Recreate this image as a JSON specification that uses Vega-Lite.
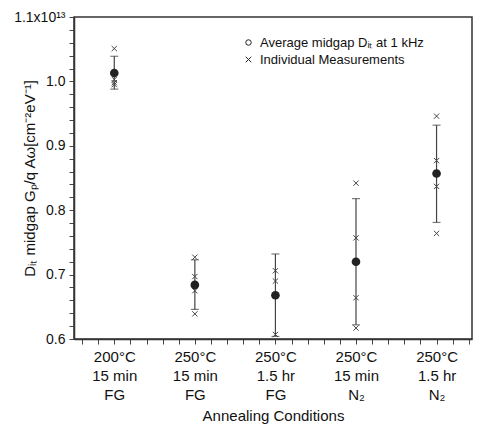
{
  "$schema": "https://vega.github.io/schema/vega-lite/v6.json",
  "width": 398,
  "height": 322,
  "autosize": {"type": "none"},
  "padding": {"left": 74, "top": 17, "right": 7, "bottom": 87},
  "background": "white",
  "config": {
    "view": {"stroke": "#333333", "strokeWidth": 1.5},
    "font": "Liberation Sans",
    "axis": {
      "grid": false,
      "ticks": true,
      "domainColor": "#333333",
      "domainWidth": 1.5,
      "tickColor": "#444444",
      "tickWidth": 1,
      "labelColor": "#111111",
      "titleColor": "#111111",
      "titleFontWeight": "normal",
      "labelFont": "Liberation Sans",
      "titleFont": "Liberation Sans"
    }
  },
  "datasets": {
    "means": [
      {"idx": 1, "condition": "200°C 15 min FG", "series": "Average midgap Dᵢₜ  at 1 kHz", "mean": 1.013, "low": 0.988, "high": 1.039},
      {"idx": 2, "condition": "250°C 15 min FG", "series": "Average midgap Dᵢₜ  at 1 kHz", "mean": 0.684, "low": 0.646, "high": 0.723},
      {"idx": 3, "condition": "250°C 1.5 hr FG", "series": "Average midgap Dᵢₜ  at 1 kHz", "mean": 0.668, "low": 0.604, "high": 0.732},
      {"idx": 4, "condition": "250°C 15 min N2", "series": "Average midgap Dᵢₜ  at 1 kHz", "mean": 0.720, "low": 0.622, "high": 0.818},
      {"idx": 5, "condition": "250°C 1.5 hr N2", "series": "Average midgap Dᵢₜ  at 1 kHz", "mean": 0.857, "low": 0.781, "high": 0.932}
    ],
    "individual": [
      {"idx": 1, "series": "Individual Measurements", "value": 1.051},
      {"idx": 1, "series": "Individual Measurements", "value": 1.003},
      {"idx": 1, "series": "Individual Measurements", "value": 0.998},
      {"idx": 1, "series": "Individual Measurements", "value": 0.995},
      {"idx": 2, "series": "Individual Measurements", "value": 0.727},
      {"idx": 2, "series": "Individual Measurements", "value": 0.697},
      {"idx": 2, "series": "Individual Measurements", "value": 0.675},
      {"idx": 2, "series": "Individual Measurements", "value": 0.639},
      {"idx": 3, "series": "Individual Measurements", "value": 0.706},
      {"idx": 3, "series": "Individual Measurements", "value": 0.690},
      {"idx": 3, "series": "Individual Measurements", "value": 0.607},
      {"idx": 4, "series": "Individual Measurements", "value": 0.842},
      {"idx": 4, "series": "Individual Measurements", "value": 0.757},
      {"idx": 4, "series": "Individual Measurements", "value": 0.664},
      {"idx": 4, "series": "Individual Measurements", "value": 0.617},
      {"idx": 5, "series": "Individual Measurements", "value": 0.946},
      {"idx": 5, "series": "Individual Measurements", "value": 0.877},
      {"idx": 5, "series": "Individual Measurements", "value": 0.837},
      {"idx": 5, "series": "Individual Measurements", "value": 0.764}
    ]
  },
  "layer": [
    {
      "data": {"name": "means"},
      "mark": {"type": "rule", "color": "#444444", "strokeWidth": 1.2},
      "encoding": {
        "x": {
          "field": "idx", "type": "quantitative",
          "scale": {"domain": [0.5, 5.44], "nice": false, "zero": false},
          "axis": {"orient": "bottom", "values": [0.6, 0.8, 1, 1.2, 1.4, 1.6, 1.8, 2, 2.2, 2.4, 2.6, 2.8, 3, 3.2, 3.4, 3.6, 3.8, 4, 4.2, 4.4, 4.6, 4.8, 5, 5.2, 5.4], "tickSize": 5, "labelExpr": "abs(datum.value - round(datum.value)) < 0.01 ? split(['200°C|15 min|FG','250°C|15 min|FG','250°C|1.5 hr|FG','250°C|15 min|N₂','250°C|1.5 hr|N₂'][round(datum.value) - 1], '|') : ''", "labelFontSize": 15, "labelLineHeight": 19, "labelPadding": 5, "labelOverlap": false, "labelFlush": false, "labelBound": false, "title": "Annealing Conditions", "titleFontSize": 15, "titlePadding": 6}
        },
        "y": {
          "field": "low", "type": "quantitative",
          "scale": {"domain": [0.6, 1.1], "nice": false, "zero": false},
          "axis": {"orient": "left", "values": [0.6, 0.62, 0.64, 0.66, 0.68, 0.7, 0.72, 0.74, 0.76, 0.78, 0.8, 0.82, 0.84, 0.86, 0.88, 0.9, 0.92, 0.94, 0.96, 0.98, 1.0, 1.02, 1.04, 1.06, 1.08, 1.1], "tickSize": 5, "labelExpr": "abs(datum.value * 10 - round(datum.value * 10)) < 0.01 ? (datum.value > 1.05 ? '1.1x10¹³' : format(datum.value, '.1f')) : ''", "labelFontSize": 14, "labelPadding": 4, "labelOverlap": false, "labelFlush": false, "labelBound": false, "title": "Dᵢₜ midgap Gₚ/q Aω[cm⁻²eV⁻¹]", "titleFontSize": 15, "titlePadding": -24}
        },
        "y2": {"field": "high"}
      }
    },
    {
      "data": {"name": "means"},
      "mark": {"type": "tick", "orient": "horizontal", "color": "#444444", "size": 8, "thickness": 1.2},
      "encoding": {
        "x": {
          "field": "idx", "type": "quantitative",
          "axis": {"orient": "bottom", "values": [0.6, 0.8, 1, 1.2, 1.4, 1.6, 1.8, 2, 2.2, 2.4, 2.6, 2.8, 3, 3.2, 3.4, 3.6, 3.8, 4, 4.2, 4.4, 4.6, 4.8, 5, 5.2, 5.4], "tickSize": 5, "labelExpr": "abs(datum.value - round(datum.value)) < 0.01 ? split(['200°C|15 min|FG','250°C|15 min|FG','250°C|1.5 hr|FG','250°C|15 min|N₂','250°C|1.5 hr|N₂'][round(datum.value) - 1], '|') : ''", "labelFontSize": 15, "labelLineHeight": 19, "labelPadding": 5, "labelOverlap": false, "labelFlush": false, "labelBound": false, "title": "Annealing Conditions", "titleFontSize": 15, "titlePadding": 6}
        },
        "y": {
          "field": "low", "type": "quantitative",
          "axis": {"orient": "left", "values": [0.6, 0.62, 0.64, 0.66, 0.68, 0.7, 0.72, 0.74, 0.76, 0.78, 0.8, 0.82, 0.84, 0.86, 0.88, 0.9, 0.92, 0.94, 0.96, 0.98, 1.0, 1.02, 1.04, 1.06, 1.08, 1.1], "tickSize": 5, "labelExpr": "abs(datum.value * 10 - round(datum.value * 10)) < 0.01 ? (datum.value > 1.05 ? '1.1x10¹³' : format(datum.value, '.1f')) : ''", "labelFontSize": 14, "labelPadding": 4, "labelOverlap": false, "labelFlush": false, "labelBound": false, "title": "Dᵢₜ midgap Gₚ/q Aω[cm⁻²eV⁻¹]", "titleFontSize": 15, "titlePadding": -24}
        }
      }
    },
    {
      "data": {"name": "means"},
      "mark": {"type": "tick", "orient": "horizontal", "color": "#444444", "size": 8, "thickness": 1.2},
      "encoding": {
        "x": {
          "field": "idx", "type": "quantitative",
          "axis": {"orient": "bottom", "values": [0.6, 0.8, 1, 1.2, 1.4, 1.6, 1.8, 2, 2.2, 2.4, 2.6, 2.8, 3, 3.2, 3.4, 3.6, 3.8, 4, 4.2, 4.4, 4.6, 4.8, 5, 5.2, 5.4], "tickSize": 5, "labelExpr": "abs(datum.value - round(datum.value)) < 0.01 ? split(['200°C|15 min|FG','250°C|15 min|FG','250°C|1.5 hr|FG','250°C|15 min|N₂','250°C|1.5 hr|N₂'][round(datum.value) - 1], '|') : ''", "labelFontSize": 15, "labelLineHeight": 19, "labelPadding": 5, "labelOverlap": false, "labelFlush": false, "labelBound": false, "title": "Annealing Conditions", "titleFontSize": 15, "titlePadding": 6}
        },
        "y": {
          "field": "high", "type": "quantitative",
          "axis": {"orient": "left", "values": [0.6, 0.62, 0.64, 0.66, 0.68, 0.7, 0.72, 0.74, 0.76, 0.78, 0.8, 0.82, 0.84, 0.86, 0.88, 0.9, 0.92, 0.94, 0.96, 0.98, 1.0, 1.02, 1.04, 1.06, 1.08, 1.1], "tickSize": 5, "labelExpr": "abs(datum.value * 10 - round(datum.value * 10)) < 0.01 ? (datum.value > 1.05 ? '1.1x10¹³' : format(datum.value, '.1f')) : ''", "labelFontSize": 14, "labelPadding": 4, "labelOverlap": false, "labelFlush": false, "labelBound": false, "title": "Dᵢₜ midgap Gₚ/q Aω[cm⁻²eV⁻¹]", "titleFontSize": 15, "titlePadding": -24}
        }
      }
    },
    {
      "data": {"name": "individual"},
      "mark": {"type": "point", "filled": false, "color": "#444444", "strokeWidth": 1, "size": 28, "opacity": 1},
      "encoding": {
        "x": {
          "field": "idx", "type": "quantitative",
          "axis": {"orient": "bottom", "values": [0.6, 0.8, 1, 1.2, 1.4, 1.6, 1.8, 2, 2.2, 2.4, 2.6, 2.8, 3, 3.2, 3.4, 3.6, 3.8, 4, 4.2, 4.4, 4.6, 4.8, 5, 5.2, 5.4], "tickSize": 5, "labelExpr": "abs(datum.value - round(datum.value)) < 0.01 ? split(['200°C|15 min|FG','250°C|15 min|FG','250°C|1.5 hr|FG','250°C|15 min|N₂','250°C|1.5 hr|N₂'][round(datum.value) - 1], '|') : ''", "labelFontSize": 15, "labelLineHeight": 19, "labelPadding": 5, "labelOverlap": false, "labelFlush": false, "labelBound": false, "title": "Annealing Conditions", "titleFontSize": 15, "titlePadding": 6}
        },
        "y": {
          "field": "value", "type": "quantitative",
          "axis": {"orient": "left", "values": [0.6, 0.62, 0.64, 0.66, 0.68, 0.7, 0.72, 0.74, 0.76, 0.78, 0.8, 0.82, 0.84, 0.86, 0.88, 0.9, 0.92, 0.94, 0.96, 0.98, 1.0, 1.02, 1.04, 1.06, 1.08, 1.1], "tickSize": 5, "labelExpr": "abs(datum.value * 10 - round(datum.value * 10)) < 0.01 ? (datum.value > 1.05 ? '1.1x10¹³' : format(datum.value, '.1f')) : ''", "labelFontSize": 14, "labelPadding": 4, "labelOverlap": false, "labelFlush": false, "labelBound": false, "title": "Dᵢₜ midgap Gₚ/q Aω[cm⁻²eV⁻¹]", "titleFontSize": 15, "titlePadding": -24}
        },
        "shape": {
          "field": "series", "type": "nominal",
          "scale": {"domain": ["Average midgap Dᵢₜ  at 1 kHz", "Individual Measurements"], "range": ["circle", "M-1,-1L1,1M-1,1L1,-1"]},
          "legend": {
            "title": null,
            "orient": "none",
            "legendX": 168,
            "legendY": 19,
            "padding": 0,
            "symbolSize": 30,
            "symbolStrokeWidth": 1,
            "symbolStrokeColor": "#222222",
            "symbolFillColor": "transparent",
            "labelFontSize": 13,
            "labelLimit": 0,
            "labelColor": "#111111",
            "labelOffset": 5,
            "rowPadding": 3
          }
        }
      }
    },
    {
      "data": {"name": "means"},
      "mark": {"type": "point", "filled": true, "color": "#222222", "size": 75, "opacity": 1},
      "encoding": {
        "x": {
          "field": "idx", "type": "quantitative",
          "axis": {"orient": "bottom", "values": [0.6, 0.8, 1, 1.2, 1.4, 1.6, 1.8, 2, 2.2, 2.4, 2.6, 2.8, 3, 3.2, 3.4, 3.6, 3.8, 4, 4.2, 4.4, 4.6, 4.8, 5, 5.2, 5.4], "tickSize": 5, "labelExpr": "abs(datum.value - round(datum.value)) < 0.01 ? split(['200°C|15 min|FG','250°C|15 min|FG','250°C|1.5 hr|FG','250°C|15 min|N₂','250°C|1.5 hr|N₂'][round(datum.value) - 1], '|') : ''", "labelFontSize": 15, "labelLineHeight": 19, "labelPadding": 5, "labelOverlap": false, "labelFlush": false, "labelBound": false, "title": "Annealing Conditions", "titleFontSize": 15, "titlePadding": 6}
        },
        "y": {
          "field": "mean", "type": "quantitative",
          "axis": {"orient": "left", "values": [0.6, 0.62, 0.64, 0.66, 0.68, 0.7, 0.72, 0.74, 0.76, 0.78, 0.8, 0.82, 0.84, 0.86, 0.88, 0.9, 0.92, 0.94, 0.96, 0.98, 1.0, 1.02, 1.04, 1.06, 1.08, 1.1], "tickSize": 5, "labelExpr": "abs(datum.value * 10 - round(datum.value * 10)) < 0.01 ? (datum.value > 1.05 ? '1.1x10¹³' : format(datum.value, '.1f')) : ''", "labelFontSize": 14, "labelPadding": 4, "labelOverlap": false, "labelFlush": false, "labelBound": false, "title": "Dᵢₜ midgap Gₚ/q Aω[cm⁻²eV⁻¹]", "titleFontSize": 15, "titlePadding": -24}
        },
        "shape": {"field": "series", "type": "nominal"}
      }
    }
  ]
}
